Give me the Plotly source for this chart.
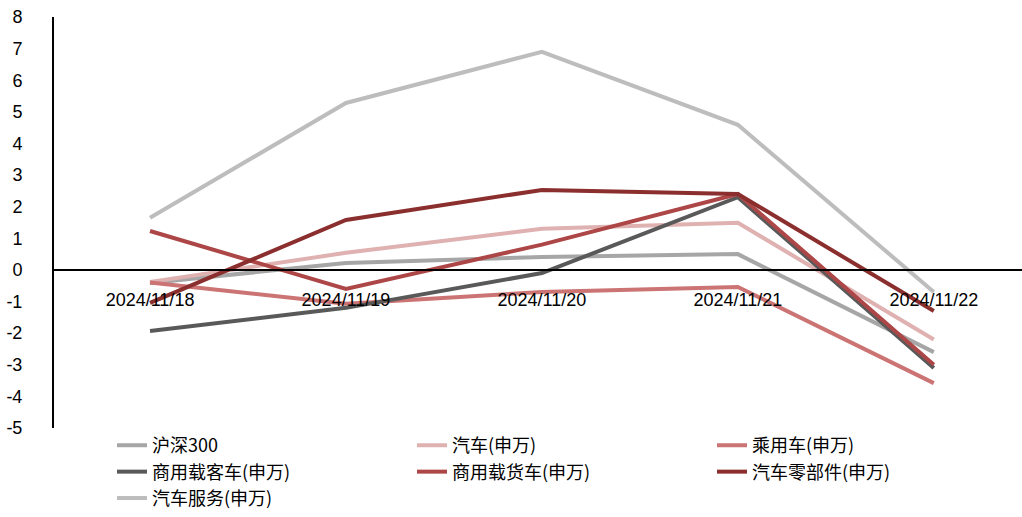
import plotly.graph_objects as go

# Trading days
dates = ["2024/11/18", "2024/11/19", "2024/11/20", "2024/11/21", "2024/11/22"]

# Daily change (%) per index
hs300 = [-0.41, 0.22, 0.41, 0.50, -2.60]
auto_sw = [-0.38, 0.54, 1.30, 1.49, -2.20]
passenger = [-0.40, -1.07, -0.70, -0.54, -3.58]
bus = [-1.93, -1.20, -0.10, 2.30, -3.10]
truck = [1.23, -0.60, 0.80, 2.40, -3.00]
parts = [-1.04, 1.58, 2.53, 2.40, -1.30]
service = [1.65, 5.28, 6.90, 4.59, -0.70]

# Y-axis ticks, labelled with a plain hyphen for negatives
y_ticks = list(range(-5, 9))
y_tick_text = [str(v) for v in y_ticks]

series = [
    ("沪深300", hs300, "#a6a6a6"),
    ("汽车(申万)", auto_sw, "#dfb1b1"),
    ("乘用车(申万)", passenger, "#cc7474"),
    ("商用载客车(申万)", bus, "#595959"),
    ("商用载货车(申万)", truck, "#ad4646"),
    ("汽车零部件(申万)", parts, "#8b2e2e"),
    ("汽车服务(申万)", service, "#bdbdbd"),
]

fig = go.Figure()
for name, vals, color in series:
    fig.add_trace(go.Scatter(
        x=dates, y=vals, name=name, mode="lines",
        line=dict(color=color, width=4),
    ))

fig.update_layout(
    width=1022, height=517,
    margin=dict(l=54, r=0, t=17, b=89, autoexpand=False),
    plot_bgcolor="white", paper_bgcolor="white",
    font=dict(family="Arial, Liberation Sans, Noto Sans CJK SC", size=18, color="#000000"),
    showlegend=True,
    legend=dict(
        orientation="h",
        x=0.1096, xanchor="left", xref="container",
        y=0.174, yanchor="top", yref="container",
        entrywidth=255, entrywidthmode="pixels",
        font=dict(family="Noto Sans CJK SC, Arial", size=18, color="#000000"),
        tracegroupgap=0,
        bgcolor="rgba(0,0,0,0)",
    ),
    xaxis=dict(
        type="category",
        range=[-0.49, 4.45],
        anchor="free", position=5 / 13,
        showline=True, linecolor="#000000", linewidth=2,
        showgrid=False, ticks="", ticklabelstandoff=13,
        tickfont=dict(family="Arial, Liberation Sans", size=18, color="#000000"),
    ),
    yaxis=dict(
        range=[-5, 8],
        tickmode="array", tickvals=y_ticks, ticktext=y_tick_text,
        showline=True, linecolor="#000000", linewidth=2,
        showgrid=False, zeroline=False,
        ticks="", ticklabelstandoff=26,
        tickfont=dict(family="Arial, Liberation Sans", size=18, color="#000000"),
    ),
)

fig.write_html("out.html")
